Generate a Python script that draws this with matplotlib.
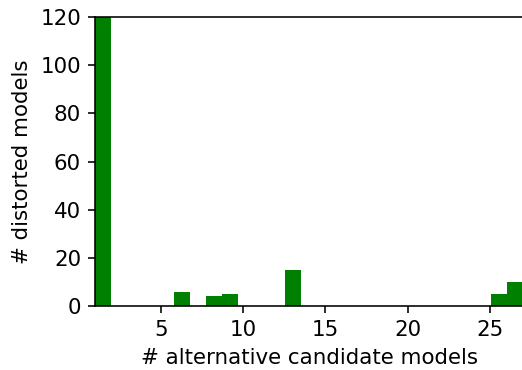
import matplotlib
matplotlib.use("Agg")
import matplotlib.pyplot as plt
import numpy as np

# number of alternative candidate models (category) and count of distorted models
alt_models = [1, 6, 8, 9, 13, 26, 27]
distorted_counts = [130, 6, 4, 5, 15, 5, 10]
x_ticks = [5, 10, 15, 20, 25]
y_ticks = [0, 20, 40, 60, 80, 100, 120]

DPI = 144
plt.rcParams['font.size'] = 10.7
fig = plt.figure(figsize=(522 / DPI, 370 / DPI), dpi=DPI)
ax = fig.add_axes([95/522, 1 - 306/370, 1 - 95/522 + 0.002, (306 - 17)/370])
ax.hist(alt_models, bins=27, weights=distorted_counts, color='green')
ax.set_xlim(1, 27)
ax.set_ylim(0, 120)
ax.set_xticks(x_ticks)
ax.set_yticks(y_ticks)
ax.set_xlabel('# alternative candidate models')
ax.set_ylabel('# distorted models')
fig.savefig('out.png', dpi=DPI)
